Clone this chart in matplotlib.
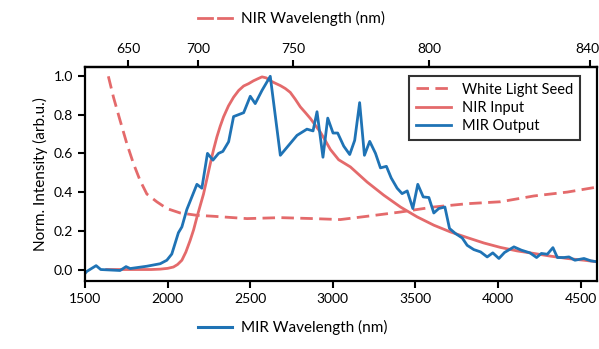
import matplotlib
matplotlib.use("Agg")
import matplotlib.pyplot as plt
from matplotlib.lines import Line2D
import matplotlib.transforms as mtransforms
import numpy as np

plt.rcParams['font.family'] = ['Lato', 'DejaVu Sans']

RED = '#e46a6b'
BLUE = '#1f73b5'
PUMP = 1030.0

# MIR output (x in nm on MIR axis)
mir_x = [1500, 1510, 1567, 1595, 1712, 1748, 1773, 1874, 1955, 1995, 2025, 2065, 2086, 2116,
         2177, 2207, 2241, 2274, 2308, 2334, 2369, 2399, 2460, 2500, 2530, 2571, 2621, 2682,
         2783, 2843, 2880, 2904, 2940, 2969, 3001, 3029, 3066, 3102, 3132, 3162, 3191, 3223,
         3258, 3288, 3324, 3353, 3389, 3419, 3450, 3484, 3514, 3547, 3581, 3611, 3641, 3678,
         3706, 3742, 3783, 3813, 3853, 3894, 3934, 3968, 4005, 4039, 4096, 4141, 4193, 4233,
         4262, 4298, 4332, 4359, 4399, 4429, 4465, 4520, 4561, 4600]
mir_y = [-0.02, -0.01, 0.02, 0.0, -0.005, 0.015, 0.005, 0.017, 0.03, 0.048, 0.08, 0.19, 0.22, 0.31,
         0.44, 0.42, 0.60, 0.565, 0.60, 0.61, 0.66, 0.79, 0.81, 0.895, 0.857, 0.925, 0.998, 0.59,
         0.693, 0.725, 0.716, 0.815, 0.58, 0.782, 0.705, 0.705, 0.637, 0.594, 0.667, 0.862, 0.59, 0.662,
         0.60, 0.525, 0.533, 0.473, 0.42, 0.392, 0.406, 0.315, 0.44, 0.375, 0.372, 0.292, 0.315, 0.323,
         0.212, 0.186, 0.163, 0.125, 0.103, 0.091, 0.065, 0.086, 0.057, 0.088, 0.117, 0.1, 0.086, 0.062,
         0.083, 0.079, 0.113, 0.062, 0.062, 0.065, 0.048, 0.057, 0.045, 0.04]

# NIR input (mapped onto MIR axis)
nir_x = [1631, 1700, 1800, 1900, 1955, 2000, 2035, 2060, 2086, 2110, 2136, 2157, 2177, 2197,
         2217, 2238, 2258, 2278, 2298, 2318, 2338, 2368, 2399, 2430, 2460, 2490, 2520, 2545,
         2571, 2596, 2621, 2652, 2682, 2712, 2742, 2772, 2803, 2834, 2864, 2894, 2924, 2955,
         2985, 3035, 3106, 3207, 3308, 3409, 3510, 3611, 3712, 3813, 3914, 4015, 4116, 4217,
         4318, 4419, 4520, 4600]
nir_y = [0.0, 0.0, 0.0, 0.0, 0.002, 0.006, 0.013, 0.026, 0.048, 0.09, 0.15, 0.205, 0.27, 0.33,
         0.39, 0.47, 0.547, 0.62, 0.685, 0.74, 0.788, 0.845, 0.89, 0.925, 0.948, 0.96, 0.975, 0.985,
         0.995, 0.99, 0.975, 0.962, 0.95, 0.935, 0.915, 0.88, 0.84, 0.81, 0.78, 0.745, 0.71, 0.665,
         0.62, 0.567, 0.53, 0.452, 0.384, 0.323, 0.272, 0.229, 0.194, 0.165, 0.137, 0.114, 0.096,
         0.083, 0.069, 0.057, 0.048, 0.04]

# White light seed (mapped onto MIR axis)
wls_x = [1641, 1672, 1712, 1753, 1793, 1833, 1874, 1934, 1995, 2076, 2177, 2278, 2480, 2682,
         2883, 3045, 3207, 3409, 3611, 3813, 4015, 4217, 4419, 4600]
wls_y = [0.998, 0.89, 0.77, 0.65, 0.547, 0.46, 0.39, 0.35, 0.315, 0.292, 0.28, 0.275, 0.263, 0.268,
         0.263, 0.258, 0.275, 0.297, 0.323, 0.34, 0.35, 0.38, 0.40, 0.426]

xticks = [1500, 2000, 2500, 3000, 3500, 4000, 4500]
yticks = [0.0, 0.2, 0.4, 0.6, 0.8, 1.0]
top_ticks = [650, 700, 750, 800, 840]

fig = plt.figure(figsize=(5.99, 3.49), dpi=100)
ax = fig.add_axes([0.142, 0.195, 0.855, 0.613])

ax.plot(wls_x, wls_y, color=RED, lw=2, ls=(0, (4.5, 2.3)), label='White Light Seed')
ax.plot(nir_x, nir_y, color=RED, lw=2, label='NIR Input')
ax.plot(mir_x, mir_y, color=BLUE, lw=2, label='MIR Output')

ax.set_xlim(1500, 4600)
ax.set_ylim(-0.059, 1.046)
ax.set_xticks(xticks)
ax.set_yticks(yticks)
ax.set_yticklabels([f'{v:.1f}' for v in yticks])
ax.tick_params(direction='out', length=5, width=1.5, labelsize=10)
for s in ax.spines.values():
    s.set_linewidth(1.6)
ax.set_ylabel('Norm. Intensity (arb.u.)', fontsize=11)

def mir2nir(m):
    m = np.asarray(m, dtype=float)
    return 1.0 / (1.0 / m + 1.0 / PUMP)

def nir2mir(n):
    n = np.asarray(n, dtype=float)
    return 1.0 / (1.0 / n - 1.0 / PUMP)

sec = ax.secondary_xaxis('top', functions=(mir2nir, nir2mir))
sec.set_xticks(top_ticks)
sec.tick_params(direction='out', length=5, width=1.5, labelsize=10)
sec.spines['top'].set_linewidth(1.6)
fig.canvas.draw()
last = sec.xaxis.get_ticklabels()[-1]
last.set_transform(last.get_transform() + mtransforms.ScaledTranslation(-2.5 / 100, 0, fig.dpi_scale_trans))

leg = ax.legend(loc='upper right', bbox_to_anchor=(0.967, 0.958), borderaxespad=0, fontsize=10.5,
                frameon=True, fancybox=False, edgecolor='black', handlelength=2.4, borderpad=0.45,
                labelspacing=0.3)
leg.get_frame().set_linewidth(1.5)

# axis labels with line handles
fig.text(241/599, 1 - 18/349, 'NIR Wavelength (nm)', fontsize=11, ha='left', va='center')
fig.add_artist(Line2D([198/599, 212/599], [1 - 18/349] * 2, color=RED, lw=2))
fig.add_artist(Line2D([218/599, 232/599], [1 - 18/349] * 2, color=RED, lw=2))
fig.text(241/599, 1 - 327/349, 'MIR Wavelength (nm)', fontsize=11, ha='left', va='center')
fig.add_artist(Line2D([198/599, 232/599], [1 - 327/349] * 2, color=BLUE, lw=2.2))

fig.savefig('out.png', dpi=100)
